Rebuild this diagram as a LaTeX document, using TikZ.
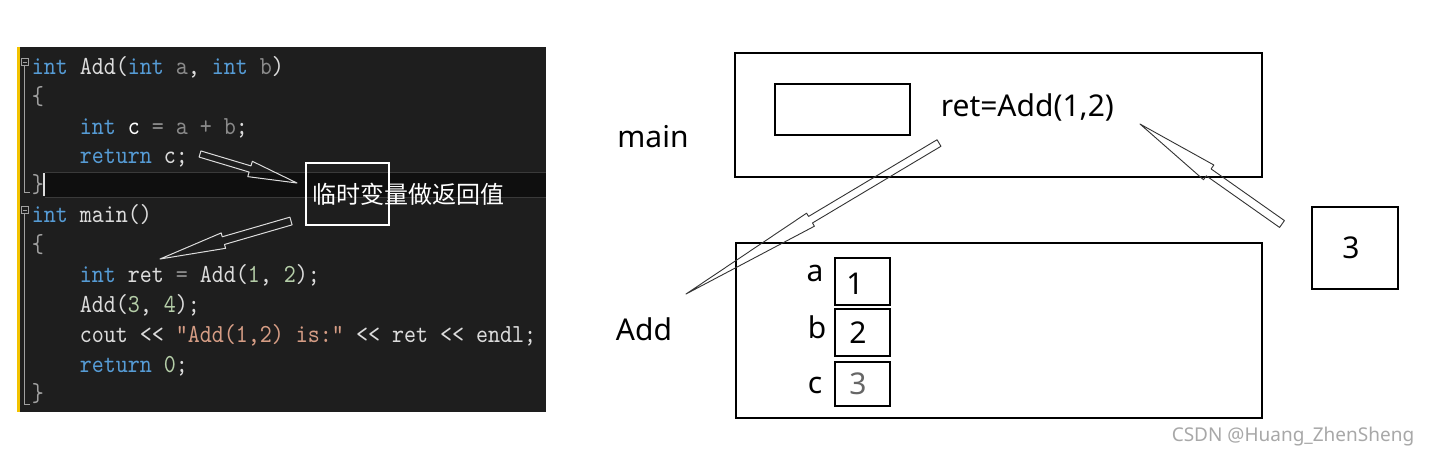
\documentclass[tikz,border=0pt]{standalone}
\usepackage{fontspec}
\usetikzlibrary{calc,positioning}
\newfontfamily\cjk{Noto Sans CJK SC}
\newfontfamily\notosans{Noto Sans}
\newfontfamily\codefam[FakeStretch=0.88]{lmmono10-regular.otf}
\definecolor{panel}{HTML}{1E1E1E}
\definecolor{curline}{HTML}{0F0F0F}
\definecolor{curedge}{HTML}{3A3A3A}
\definecolor{codefg}{HTML}{DCDCDC}
\definecolor{kwblue}{HTML}{569CD6}
\definecolor{pargray}{HTML}{8A8A8A}
\definecolor{numgreen}{HTML}{B5CEA8}
\definecolor{strorange}{HTML}{D69D85}
\definecolor{foldgray}{HTML}{A0A0A0}
\definecolor{baryellow}{HTML}{F2C200}
\definecolor{wmgray}{HTML}{A8A8A8}
\newcommand{\codefont}{\codefam\fontsize{13}{15}\selectfont\frenchspacing}
\newcommand{\kw}[1]{\textcolor{kwblue}{#1}}
\newcommand{\cpar}[1]{\textcolor{pargray}{#1}}
\newcommand{\cnum}[1]{\textcolor{numgreen}{#1}}
\newcommand{\cstr}[1]{\textcolor{strorange}{#1}}
\newcommand{\cbr}[1]{\textcolor{foldgray}{#1}}
% [style]{tail}{tip}{head length}{shaft half width}{head half width}
\newcommand{\hollowarrow}[6][]{%
  \coordinate (#3-base) at ($(#3)!#4!(#2)$);
  \draw[line join=round, #1] ($(#2)!#5!90:(#3)$) -- ($(#3-base)!#5!90:(#3)$)
    -- ($(#3-base)!#6!90:(#3)$) -- (#3)
    -- ($(#3-base)!#6!-90:(#3)$) -- ($(#3-base)!#5!-90:(#3)$)
    -- ($(#2)!#5!-90:(#3)$) -- cycle;
}
\tikzset{every picture/.style={line width=0.75pt}}

\begin{document}
\begin{tikzpicture}[x=0.5pt, y=-0.5pt,
    code/.style={anchor=base west, inner sep=0pt, font=\codefont, text=codefg},
    box/.style={draw, inner sep=0pt, line width=0.7pt},
    lab/.style={inner sep=0pt, font=\notosans\fontsize{15}{18}\selectfont}]
    \useasboundingbox (0,0) rectangle (1430,457);
    \fill[white] (0,0) rectangle (1430,457);

    % code panel
    \fill[panel] (17,47) rectangle (546,412);
    \fill[baryellow] (17,47) rectangle (20,412);
    \fill[curline] (45,172) rectangle (546,197);
    \draw[curedge, line width=0.5pt] (45,172) -- (546,172) (45,197) -- (546,197);
    \draw[codefg, line width=0.6pt] (44,173) -- (44,196);
    \foreach \y/\e in {62/192, 210/404} {
        \draw[foldgray, line width=0.4pt] (21,\y-3.5) rectangle (28,\y+3.5);
        \draw[foldgray, line width=0.4pt] (22.5,\y) -- (26.5,\y);
        \draw[foldgray, line width=0.4pt] (24,\y+3.5) -- (24,\e) -- (30,\e);
    }

    \node[code] (l1) at (31,74) {\kw{int} Add(\kw{int} \cpar{a}, \kw{int} \cpar{b})};
    \node[code] (l2) at (31,104) {\cbr{\{}};
    \node[code] (l3) at (79,134) {\kw{int} \textcolor{white}{c} \cpar{=} \cpar{a} \cpar{+} \cpar{b};};
    \node[code] (l4) at (79,163) {\kw{return} c;};
    \node[code] (l5) at (31,192) {\cbr{\}}};
    \node[code] (l6) at (31,222) {\kw{int} main()};
    \node[code] (l7) at (31,252) {\cbr{\{}};
    \node[code] (l8) at (79,282) {\kw{int} ret \cpar{=} Add(\cnum{1}, \cnum{2});};
    \node[code] (l9) at (79,312) {Add(\cnum{3}, \cnum{4});};
    \node[code] (l10) at (79,342) {cout << \cstr{"Add(1,2) is:"} << ret << endl;};
    \node[code] (l11) at (79,372) {\kw{return} \cnum{0};};
    \node[code] (l12) at (31,401) {\cbr{\}}};

    \node[draw=white, line width=0.6pt, minimum width=41.5pt, minimum height=31pt, inner sep=0pt] (tmpbox) at (347.5,194) {};
    \node[anchor=west, inner sep=0pt, text=white, font=\cjk\fontsize{12}{14}\selectfont] (tmp) at (312,194) {临时变量做返回值};

    \coordinate (t1) at (200,154);
    \coordinate (h1) at (297,183);
    \coordinate (t2) at (291,221);
    \coordinate (h2) at (160,259);
    \hollowarrow[draw=codefg, line width=0.5pt]{t1}{h1}{24.5pt}{1.6pt}{4pt}
    \hollowarrow[draw=codefg, line width=0.5pt]{t2}{h2}{33pt}{2pt}{4pt}

    % stack frames
    \node[box, minimum width=263.5pt, minimum height=62pt] (mainf) at (998.5,115) {};
    \node[box, minimum width=67.5pt, minimum height=25.5pt] (retbox) at (842.5,109.5) {};
    \node[lab, anchor=west] (ret) at (940,107) {ret=Add(1,2)};
    \node[lab] (main) at (653,137) {main};

    \node[box, minimum width=263pt, minimum height=87.5pt] (addf) at (999,330.5) {};
    \node[lab] (add) at (644,329) {Add};
    \node[box, minimum width=27.5pt, minimum height=23.5pt] (va) at (862.5,281.5) {};
    \node[box, minimum width=27.5pt, minimum height=23.5pt] (vb) at (862.5,332.5) {};
    \node[box, minimum width=27.5pt, minimum height=22pt] (vc) at (862.5,384) {};
    \node[lab] (na) at (855,284) {1};
    \node[lab] (nb) at (858,333) {2};
    \node[lab, text=black!60] (nc) at (858,384) {3};
    \node[lab] (la) at (815,273) {a};
    \node[lab] (lb) at (817,327) {b};
    \node[lab] (lc) at (815,385) {c};

    \node[box, minimum width=43pt, minimum height=41pt] (res) at (1355,248) {};
    \node[lab] (nres) at (1351,248) {3};

    \coordinate (t3) at (939,143);
    \coordinate (h3) at (686,294);
    \coordinate (t4) at (1282,224);
    \coordinate (h4) at (1140,124);
    \hollowarrow[draw=black!80, line width=0.45pt]{t3}{h3}{72.5pt}{1.9pt}{3.8pt}
    \hollowarrow[draw=black!80, line width=0.45pt]{t4}{h4}{42pt}{2.1pt}{4.5pt}

    \node[anchor=east, inner sep=0pt, text=wmgray, font=\notosans\fontsize{9.5}{11}\selectfont] (wm) at (1415,437) {CSDN @Huang\_ZhenSheng};
\end{tikzpicture}
\end{document}
